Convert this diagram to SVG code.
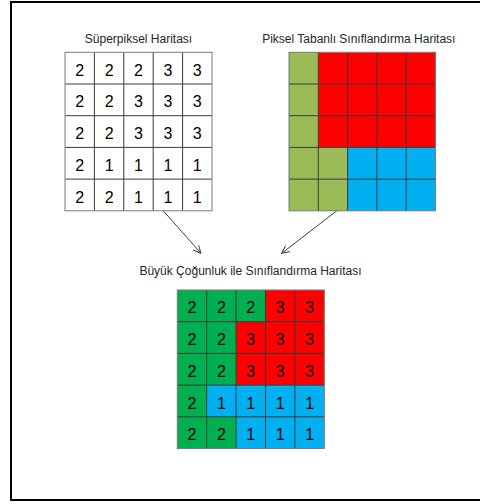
<svg xmlns="http://www.w3.org/2000/svg" width="480" height="504" viewBox="0 0 480 504">
<style>
.t{font-family:"Liberation Sans",Arial,sans-serif;font-size:12px;fill:#262626;text-anchor:middle}
.d{font-family:"Liberation Sans",Arial,sans-serif;font-size:16px;fill:#000;text-anchor:middle}
.gl{fill:none;stroke:#3a3a3a;stroke-width:1}
.ol{fill:none;stroke:#7a7a7a;stroke-width:1}
.g1{fill:#9BBB59}.r{fill:#FF0000}.b{fill:#00B0F0}.g2{fill:#00B050}
.ar{fill:none;stroke:#404040;stroke-width:1}
</style>
<defs>
<marker id="ah" viewBox="0 0 10 10" refX="9.5" refY="5" markerWidth="9" markerHeight="9" orient="auto" markerUnits="userSpaceOnUse">
<path d="M1,1 L9.5,5 L1,9" fill="none" stroke="#404040" stroke-width="1.1"/>
</marker>
</defs>
<rect width="480" height="504" fill="#fff"/>
<path d="M11,2 H480 M11,1 V501 M10,500 H480" fill="none" stroke="#000" stroke-width="2"/>

<g id="superpixel-map">
<text class="t" x="138.5" y="42.7">Süperpiksel Haritası</text>
<rect x="65" y="52.3" width="147" height="158.5" fill="#fff"/>
<path class="gl" d="M94.4,52.3V210.8M123.8,52.3V210.8M153.2,52.3V210.8M182.6,52.3V210.8M65,84H212M65,115.7H212M65,147.4H212M65,179.1H212"/>
<rect class="ol" x="65" y="52.3" width="147" height="158.5"/>
<g class="d">
<text x="79.7" y="75.7">2</text><text x="109.1" y="75.7">2</text><text x="138.5" y="75.7">2</text><text x="167.9" y="75.7">3</text><text x="197.3" y="75.7">3</text>
<text x="79.7" y="107.4">2</text><text x="109.1" y="107.4">2</text><text x="138.5" y="107.4">3</text><text x="167.9" y="107.4">3</text><text x="197.3" y="107.4">3</text>
<text x="79.7" y="139.1">2</text><text x="109.1" y="139.1">2</text><text x="138.5" y="139.1">3</text><text x="167.9" y="139.1">3</text><text x="197.3" y="139.1">3</text>
<text x="79.7" y="170.8">2</text><text x="109.1" y="170.8">1</text><text x="138.5" y="170.8">1</text><text x="167.9" y="170.8">1</text><text x="197.3" y="170.8">1</text>
<text x="79.7" y="202.5">2</text><text x="109.1" y="202.5">2</text><text x="138.5" y="202.5">1</text><text x="167.9" y="202.5">1</text><text x="197.3" y="202.5">1</text>
</g>
</g>

<g id="pixel-classification-map">
<text class="t" x="358.8" y="42.7">Piksel Tabanlı Sınıflandırma Haritası</text>
<rect class="g1" x="289" y="52.3" width="29.3" height="95.1"/>
<rect class="r" x="318.3" y="52.3" width="117.2" height="95.1"/>
<rect class="g1" x="289" y="147.4" width="58.6" height="63.4"/>
<rect class="b" x="347.6" y="147.4" width="87.9" height="63.4"/>
<path class="gl" d="M318.3,52.3V210.8M347.6,52.3V210.8M376.9,52.3V210.8M406.2,52.3V210.8M289,84H435.5M289,115.7H435.5M289,147.4H435.5M289,179.1H435.5"/>
<rect class="ol" x="289" y="52.3" width="146.5" height="158.5"/>
</g>

<g id="majority-classification-map">
<text class="t" x="250.5" y="275">Büyük Çoğunluk ile Sınıflandırma Haritası</text>
<rect class="g2" x="177.3" y="290" width="147" height="158.5"/>
<rect class="r" x="265.5" y="290" width="58.8" height="31.7"/>
<rect class="r" x="236.1" y="321.7" width="88.2" height="63.4"/>
<rect class="b" x="206.7" y="385.1" width="117.6" height="31.7"/>
<rect class="b" x="236.1" y="416.8" width="88.2" height="31.7"/>
<path class="gl" d="M206.7,290V448.5M236.1,290V448.5M265.5,290V448.5M294.9,290V448.5M177.3,321.7H324.3M177.3,353.4H324.3M177.3,385.1H324.3M177.3,416.8H324.3"/>
<rect class="ol" x="177.3" y="290" width="147" height="158.5"/>
<g class="d">
<text x="192" y="313.4">2</text><text x="221.4" y="313.4">2</text><text x="250.8" y="313.4">2</text><text x="280.2" y="313.4">3</text><text x="309.6" y="313.4">3</text>
<text x="192" y="345.1">2</text><text x="221.4" y="345.1">2</text><text x="250.8" y="345.1">3</text><text x="280.2" y="345.1">3</text><text x="309.6" y="345.1">3</text>
<text x="192" y="376.8">2</text><text x="221.4" y="376.8">2</text><text x="250.8" y="376.8">3</text><text x="280.2" y="376.8">3</text><text x="309.6" y="376.8">3</text>
<text x="192" y="408.5">2</text><text x="221.4" y="408.5">1</text><text x="250.8" y="408.5">1</text><text x="280.2" y="408.5">1</text><text x="309.6" y="408.5">1</text>
<text x="192" y="440.2">2</text><text x="221.4" y="440.2">2</text><text x="250.8" y="440.2">1</text><text x="280.2" y="440.2">1</text><text x="309.6" y="440.2">1</text>
</g>
</g>

<g id="connectors">
<line class="ar" x1="163.3" y1="210.8" x2="201" y2="253.3" marker-end="url(#ah)"/>
<line class="ar" x1="336.7" y1="210.8" x2="281.7" y2="253.3" marker-end="url(#ah)"/>
</g>
</svg>
